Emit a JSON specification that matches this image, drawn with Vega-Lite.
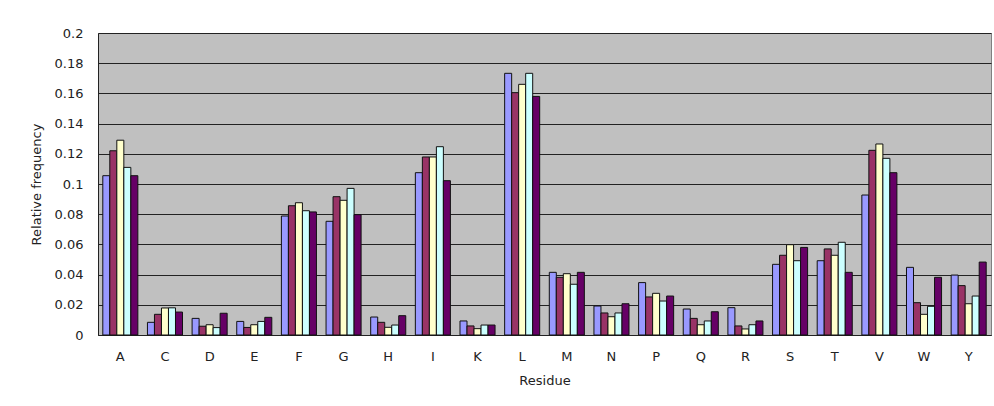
{
  "$schema": "https://vega.github.io/schema/vega-lite/v6.json",
  "width": 893,
  "height": 302,
  "autosize": {"type": "none"},
  "padding": {"left": 98, "top": 33, "right": 3, "bottom": 71},
  "background": "white",
  "config": {
    "view": {"fill": "#C0C0C0", "stroke": "#808080", "strokeWidth": 1},
    "font": "DejaVu Sans",
    "axis": {"labelFont": "DejaVu Sans", "titleFont": "DejaVu Sans", "labelColor": "#222", "titleColor": "#222", "labelFontSize": 13, "titleFontSize": 13, "titleFontWeight": "normal"}
  },
  "data": {"values": [
    {"residue": "A", "series": "S1", "freq": 0.1055}, {"residue": "A", "series": "S2", "freq": 0.122}, {"residue": "A", "series": "S3", "freq": 0.129}, {"residue": "A", "series": "S4", "freq": 0.111}, {"residue": "A", "series": "S5", "freq": 0.1055},
    {"residue": "C", "series": "S1", "freq": 0.0084}, {"residue": "C", "series": "S2", "freq": 0.0137}, {"residue": "C", "series": "S3", "freq": 0.0179}, {"residue": "C", "series": "S4", "freq": 0.018}, {"residue": "C", "series": "S5", "freq": 0.0152},
    {"residue": "D", "series": "S1", "freq": 0.011}, {"residue": "D", "series": "S2", "freq": 0.0058}, {"residue": "D", "series": "S3", "freq": 0.0068}, {"residue": "D", "series": "S4", "freq": 0.0049}, {"residue": "D", "series": "S5", "freq": 0.0144},
    {"residue": "E", "series": "S1", "freq": 0.009}, {"residue": "E", "series": "S2", "freq": 0.005}, {"residue": "E", "series": "S3", "freq": 0.0068}, {"residue": "E", "series": "S4", "freq": 0.009}, {"residue": "E", "series": "S5", "freq": 0.0117},
    {"residue": "F", "series": "S1", "freq": 0.0788}, {"residue": "F", "series": "S2", "freq": 0.0856}, {"residue": "F", "series": "S3", "freq": 0.0876}, {"residue": "F", "series": "S4", "freq": 0.0823}, {"residue": "F", "series": "S5", "freq": 0.0815},
    {"residue": "G", "series": "S1", "freq": 0.0753}, {"residue": "G", "series": "S2", "freq": 0.0916}, {"residue": "G", "series": "S3", "freq": 0.0892}, {"residue": "G", "series": "S4", "freq": 0.0971}, {"residue": "G", "series": "S5", "freq": 0.0797},
    {"residue": "H", "series": "S1", "freq": 0.0119}, {"residue": "H", "series": "S2", "freq": 0.0084}, {"residue": "H", "series": "S3", "freq": 0.0051}, {"residue": "H", "series": "S4", "freq": 0.0066}, {"residue": "H", "series": "S5", "freq": 0.0128},
    {"residue": "I", "series": "S1", "freq": 0.1075}, {"residue": "I", "series": "S2", "freq": 0.1179}, {"residue": "I", "series": "S3", "freq": 0.1179}, {"residue": "I", "series": "S4", "freq": 0.1247}, {"residue": "I", "series": "S5", "freq": 0.1022},
    {"residue": "K", "series": "S1", "freq": 0.0093}, {"residue": "K", "series": "S2", "freq": 0.006}, {"residue": "K", "series": "S3", "freq": 0.0042}, {"residue": "K", "series": "S4", "freq": 0.0066}, {"residue": "K", "series": "S5", "freq": 0.0066},
    {"residue": "L", "series": "S1", "freq": 0.1733}, {"residue": "L", "series": "S2", "freq": 0.1605}, {"residue": "L", "series": "S3", "freq": 0.166}, {"residue": "L", "series": "S4", "freq": 0.1733}, {"residue": "L", "series": "S5", "freq": 0.158},
    {"residue": "M", "series": "S1", "freq": 0.0415}, {"residue": "M", "series": "S2", "freq": 0.0382}, {"residue": "M", "series": "S3", "freq": 0.0406}, {"residue": "M", "series": "S4", "freq": 0.0336}, {"residue": "M", "series": "S5", "freq": 0.0415},
    {"residue": "N", "series": "S1", "freq": 0.0192}, {"residue": "N", "series": "S2", "freq": 0.0146}, {"residue": "N", "series": "S3", "freq": 0.0121}, {"residue": "N", "series": "S4", "freq": 0.0146}, {"residue": "N", "series": "S5", "freq": 0.0207},
    {"residue": "P", "series": "S1", "freq": 0.0347}, {"residue": "P", "series": "S2", "freq": 0.0252}, {"residue": "P", "series": "S3", "freq": 0.0276}, {"residue": "P", "series": "S4", "freq": 0.0225}, {"residue": "P", "series": "S5", "freq": 0.0258},
    {"residue": "Q", "series": "S1", "freq": 0.0172}, {"residue": "Q", "series": "S2", "freq": 0.011}, {"residue": "Q", "series": "S3", "freq": 0.0068}, {"residue": "Q", "series": "S4", "freq": 0.0093}, {"residue": "Q", "series": "S5", "freq": 0.0154},
    {"residue": "R", "series": "S1", "freq": 0.0181}, {"residue": "R", "series": "S2", "freq": 0.006}, {"residue": "R", "series": "S3", "freq": 0.004}, {"residue": "R", "series": "S4", "freq": 0.0068}, {"residue": "R", "series": "S5", "freq": 0.0093},
    {"residue": "S", "series": "S1", "freq": 0.0468}, {"residue": "S", "series": "S2", "freq": 0.0528}, {"residue": "S", "series": "S3", "freq": 0.0598}, {"residue": "S", "series": "S4", "freq": 0.0492}, {"residue": "S", "series": "S5", "freq": 0.058},
    {"residue": "T", "series": "S1", "freq": 0.0492}, {"residue": "T", "series": "S2", "freq": 0.057}, {"residue": "T", "series": "S3", "freq": 0.0528}, {"residue": "T", "series": "S4", "freq": 0.0614}, {"residue": "T", "series": "S5", "freq": 0.0415},
    {"residue": "V", "series": "S1", "freq": 0.0927}, {"residue": "V", "series": "S2", "freq": 0.1223}, {"residue": "V", "series": "S3", "freq": 0.1265}, {"residue": "V", "series": "S4", "freq": 0.117}, {"residue": "V", "series": "S5", "freq": 0.1075},
    {"residue": "W", "series": "S1", "freq": 0.0448}, {"residue": "W", "series": "S2", "freq": 0.0214}, {"residue": "W", "series": "S3", "freq": 0.0137}, {"residue": "W", "series": "S4", "freq": 0.019}, {"residue": "W", "series": "S5", "freq": 0.0382},
    {"residue": "Y", "series": "S1", "freq": 0.0397}, {"residue": "Y", "series": "S2", "freq": 0.0327}, {"residue": "Y", "series": "S3", "freq": 0.0207}, {"residue": "Y", "series": "S4", "freq": 0.0258}, {"residue": "Y", "series": "S5", "freq": 0.0483}
  ]},
  "mark": {"type": "bar", "stroke": "#111", "strokeWidth": 1},
  "encoding": {
    "x": {
      "field": "residue", "type": "nominal", "sort": null, "title": "Residue",
      "scale": {"paddingInner": 0.215, "paddingOuter": 0.1075},
      "axis": {"labelAngle": 0, "bandPosition": 0, "tickSize": 0, "labelPadding": 15, "domainColor": "#222", "titlePadding": 11, "grid": false}
    },
    "xOffset": {"field": "series", "type": "nominal"},
    "y": {
      "field": "freq", "type": "quantitative", "title": "Relative frequency",
      "scale": {"domain": [0, 0.2], "nice": false},
      "axis": {"values": [0, 0.02, 0.04, 0.06, 0.08, 0.1, 0.12, 0.14, 0.16, 0.18, 0.2], "format": "~g", "tickSize": 0, "labelPadding": 15, "domainColor": "#222", "gridColor": "#222", "gridOpacity": 1, "gridWidth": 1, "titlePadding": 11}
    },
    "color": {"field": "series", "type": "nominal", "legend": null, "scale": {"range": ["#9999FF", "#993366", "#FFFFCC", "#CCFFFF", "#660066"]}}
  }
}
